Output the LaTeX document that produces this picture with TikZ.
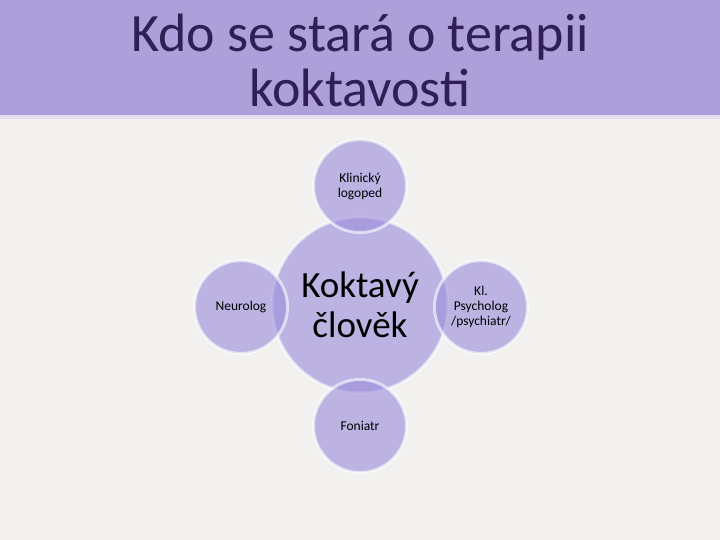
\documentclass[tikz,border=0pt]{standalone}
\usepackage{fontspec}
\setmainfont{Carlito}
\definecolor{paper}{HTML}{F2F1EF}
\definecolor{bandcol}{HTML}{AC9FDA}
\definecolor{stripcol}{HTML}{E4E0EF}
\definecolor{titlecol}{HTML}{2F1F55}
\definecolor{bubblecol}{HTML}{9B8BDB}
\begin{document}
\begin{tikzpicture}[x=1pt,y=-1pt,
	bubble/.style={circle, draw=white, draw opacity=0.6, line width=3pt, fill=bubblecol, fill opacity=0.6, text opacity=1, inner sep=0pt, align=center},
	hub/.style={bubble, minimum size=176pt, font=\fontsize{37}{40}\selectfont},
	spoke/.style={bubble, minimum size=93pt, font=\fontsize{13.5}{15}\selectfont}]
	\useasboundingbox (0,0) rectangle (720,540);
	\fill[paper] (0,0) rectangle (720,540);
	\fill[bandcol] (0,0) rectangle (720,115);
	\fill[stripcol] (0,115) rectangle (720,119);
	
	\node[text=titlecol, inner sep=0pt, align=center, font=\fontsize{54}{55}\selectfont] (title) at (360,60.5) {Kdo se stará o terapii\\koktavosti};
	
	\node[hub] (clovek) at (360,305) {Koktavý\\člověk};
	\node[spoke] (logoped) at (360,186) {Klinický\\logoped};
	\node[spoke] (neurolog) at (241,307) {Neurolog};
	\node[spoke] (psycholog) at (481,307) {Kl.\\Psycholog\\/psychiatr/};
	\node[spoke] (foniatr) at (360,426) {Foniatr};
\end{tikzpicture}
\end{document}
